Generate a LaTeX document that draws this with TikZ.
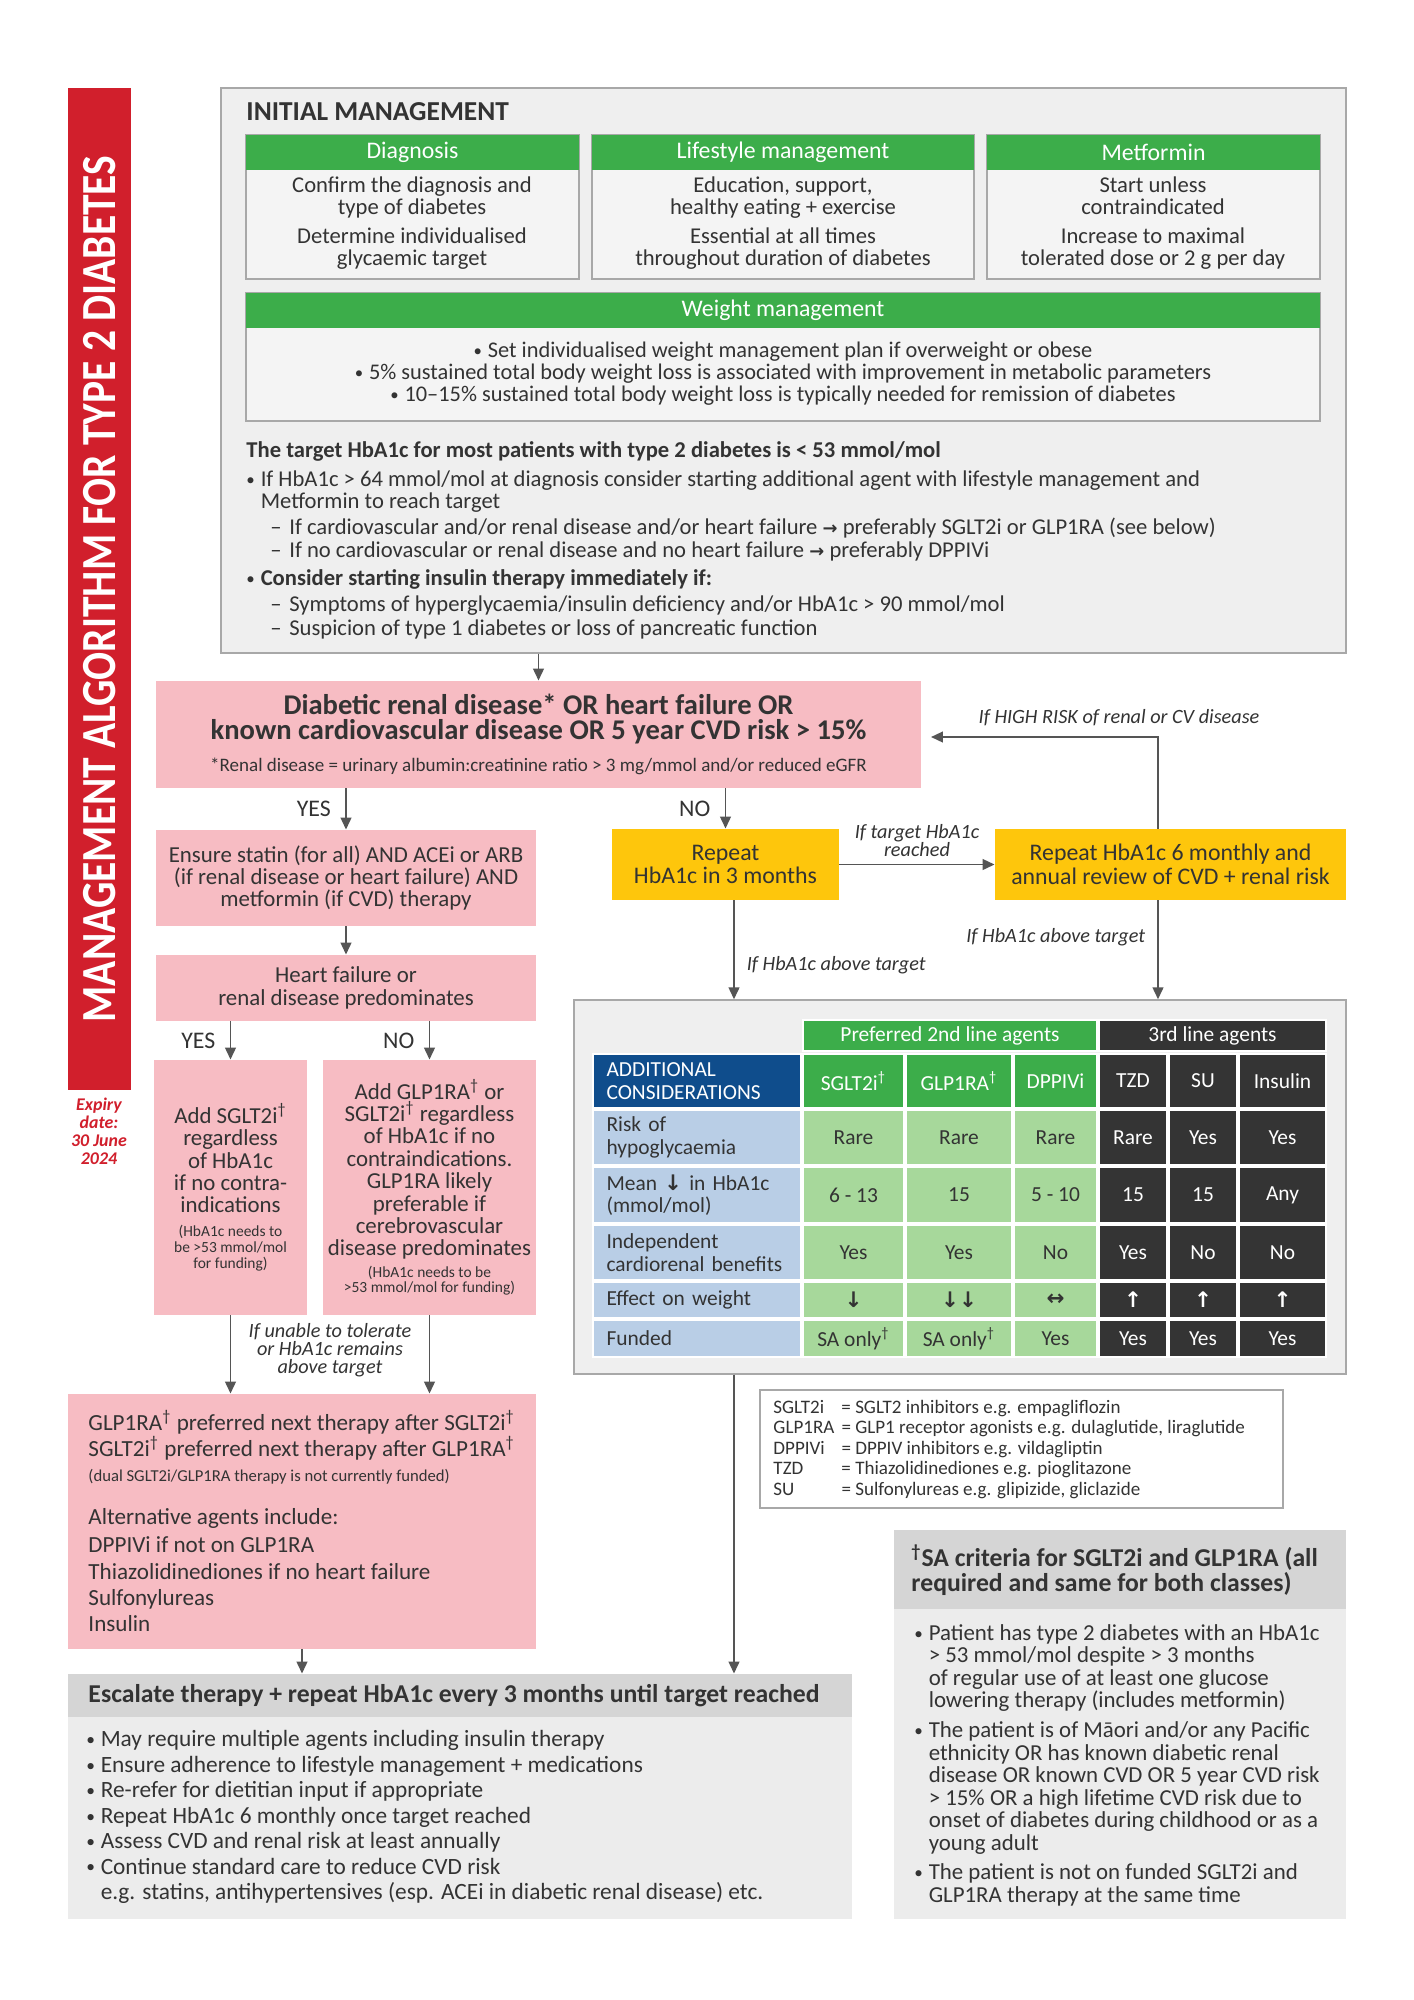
\documentclass[tikz,border=0pt]{standalone}
\usepackage{fontspec}
\setmainfont{Carlito}
\newfontfamily\symfont{DejaVu Sans}
\usepackage{graphicx}
\usetikzlibrary{arrows.meta}

\definecolor{ink}{HTML}{333333}
\definecolor{barred}{HTML}{D11F2C}
\definecolor{panelgrey}{HTML}{EFEFEF}
\definecolor{cardgrey}{HTML}{F4F4F4}
\definecolor{frame}{HTML}{A8A8A8}
\definecolor{leafgreen}{HTML}{3CAD4A}
\definecolor{rosepink}{HTML}{F7BCC3}
\definecolor{sunyellow}{HTML}{FEC60C}
\definecolor{navyblue}{HTML}{0F4D8C}
\definecolor{paleblue}{HTML}{B9CEE6}
\definecolor{palegreen}{HTML}{A7D89B}
\definecolor{charcoal}{HTML}{343434}
\definecolor{headgrey}{HTML}{D5D5D5}
\definecolor{bodygrey}{HTML}{ECECEC}
\definecolor{arrowgrey}{HTML}{555555}

\newcommand\fs[2]{\fontsize{#1}{#2}\selectfont}
\newcommand\sadag{\textsuperscript{\dag}}
\newcommand\bul{\makebox[6pt][l]{\mdseries\raisebox{0.1ex}{\scalebox{0.75}{\textbullet}}}}
\newcommand\bulgap{\hspace*{6pt}}
\newcommand\rarr{{\symfont\fs{7.5}{7.5}\bfseries →}}
\newcommand\wdown{{\symfont\bfseries ↓}}
\newcommand\wup{{\symfont\bfseries ↑}}
\newcommand\wboth{{\symfont\bfseries ↔}}

\begin{document}
\begin{tikzpicture}[x=0.42pt, y=-0.42pt,
    every node/.style={text=ink},
    % a box is given by its corners x1,y1,x2,y2 in reference pixels
    box/.style n args={4}{minimum width={(#3-#1)*0.42pt}, minimum height={(#4-#2)*0.42pt},
        at={({(#1+#3)/2},{(#2+#4)/2})}, inner sep=0pt, align=center},
    panel/.style={fill=panelgrey, draw=frame, line width=0.6pt},
    card/.style={fill=cardgrey, draw=frame, line width=0.6pt},
    greenhead/.style={fill=leafgreen, text=white, font=\fs{10}{12}},
    pinkbox/.style={fill=rosepink, font=\fs{9.6}{9.4}},
    yellowbox/.style={fill=sunyellow, font=\fs{10}{10}},
    body/.style={align=center, font=\fs{9.5}{9.3}},
    note/.style={font=\itshape\fs{8.5}{7.6}, align=center, inner sep=0pt},
    yesno/.style={font=\fs{10}{10}, inner sep=0pt},
    cell/.style={fill=#1, draw=white, line width=0.7pt, font=\fs{9}{9.4}},
    darkcell/.style={cell=charcoal, text=white},
    flow/.style={draw=arrowgrey, line width=0.8pt, -{Triangle[length=5pt, width=4.5pt]}}
]
\fill[white] (0,0) rectangle (1414,2000);
\useasboundingbox (0,0) rectangle (1414,2000);

% side bar
\node[box={68}{88}{131}{1090}, fill=barred] (bar) {};
\node[rotate=90, text=white, inner sep=0pt] (bartitle) at (bar.center)
    {\resizebox{364pt}{13.5pt}{\bfseries MANAGEMENT ALGORITHM FOR TYPE 2 DIABETES}};
\node[text=barred, font=\bfseries\itshape\fs{7.5}{7.6}, align=center] (expiry) at (99,1131)
    {Expiry\\date:\\30 June\\2024};

% initial management
\node[box={221}{88}{1346}{653}, panel] (init) {};
\node[anchor=west, font=\bfseries\fs{11.5}{12}, inner sep=0pt] (inittitle) at (246,112) {INITIAL MANAGEMENT};

\node[box={246}{135}{579}{279}, card] (diag) {};
\node[box={246}{135}{579}{170}, greenhead] (diaghd) {Diagnosis};
\node[body] (diagtx) at (412,223) {Confirm the diagnosis and\\type of diabetes\\[3pt]Determine individualised\\glycaemic target};

\node[box={592}{135}{974}{279}, card] (life) {};
\node[box={592}{135}{974}{170}, greenhead] (lifehd) {Lifestyle management};
\node[body] (lifetx) at (783,223) {Education, support,\\healthy eating + exercise\\[3pt]Essential at all times\\throughout duration of diabetes};

\node[box={987}{135}{1320}{279}, card] (metf) {};
\node[box={987}{135}{1320}{170}, greenhead] (metfhd) {Metformin};
\node[body] (metftx) at (1153,223) {Start unless\\contraindicated\\[3pt]Increase to maximal\\tolerated dose or 2 g per day};

\node[box={246}{293}{1320}{421}, card] (weight) {};
\node[box={246}{293}{1320}{328}, greenhead] (weighthd) {Weight management};
\node[body, font=\fs{9.4}{9.3}] (weighttx) at (783,374) {\bul Set individualised weight management plan if overweight or obese\\
    \bul 5\% sustained total body weight loss is associated with improvement in metabolic parameters\\
    \bul 10--15\% sustained total body weight loss is typically needed for remission of diabetes};

\node[anchor=north west, align=left, font=\fs{9.5}{9.4}, inner sep=0pt] (target) at (246,441) {%
    {\bfseries The target HbA1c for most patients with type 2 diabetes is < 53 mmol/mol}\\[2.8pt]
    \bul If HbA1c > 64 mmol/mol at diagnosis consider starting additional agent with lifestyle management and\\
    \bulgap Metformin to reach target\\[1.5pt]
    \hspace*{10pt}\makebox[8pt][l]{--}If cardiovascular and/or renal disease and/or heart failure \rarr\ preferably SGLT2i or GLP1RA (see below)\\[0.3pt]
    \hspace*{10pt}\makebox[8pt][l]{--}If no cardiovascular or renal disease and no heart failure \rarr\ preferably DPPIVi\\[2.4pt]
    \bul{\bfseries Consider starting insulin therapy immediately if:}\\[1.5pt]
    \hspace*{10pt}\makebox[8pt][l]{--}Symptoms of hyperglycaemia/insulin deficiency and/or HbA1c > 90 mmol/mol\\[0.3pt]
    \hspace*{10pt}\makebox[8pt][l]{--}Suspicion of type 1 diabetes or loss of pancreatic function};

% risk decision
\node[box={156}{681}{921}{788}, pinkbox, font=\bfseries\fs{12}{10.5}] (risk)
    {Diabetic renal disease* OR heart failure OR\\known cardiovascular disease OR 5 year CVD risk > 15\%\\[3pt]
     {\mdseries\fs{8}{8}*Renal disease = urinary albumin:creatinine ratio > 3 mg/mmol and/or reduced eGFR}};

\node[box={156}{830}{536}{926}, pinkbox] (statin)
    {Ensure statin (for all) AND ACEi or ARB\\(if renal disease or heart failure) AND\\metformin (if CVD) therapy};
\node[box={156}{955}{536}{1021}, pinkbox] (hf) {Heart failure or\\renal disease predominates};

\node[box={154}{1060}{307}{1315}, pinkbox] (sg)
    {Add SGLT2i\sadag\\regardless\\of HbA1c\\if no contra-\\indications\\[0.6pt]
     {\fs{6.5}{6.8}(HbA1c needs to}\\[-2.7pt]{\fs{6.5}{6.8}be >53 mmol/mol}\\[-2.7pt]{\fs{6.5}{6.8}for funding)}};
\node[box={323}{1060}{536}{1315}, pinkbox] (gl)
    {Add GLP1RA\sadag\ or\\SGLT2i\sadag\ regardless\\of HbA1c if no\\contraindications.\\GLP1RA likely\\preferable if\\cerebrovascular\\disease predominates\\[-0.5pt]
     {\fs{6.5}{6.8}(HbA1c needs to be}\\[-2.7pt]{\fs{6.5}{6.8}>53 mmol/mol for funding)}};

\node[box={68}{1394}{536}{1649}, pinkbox] (nt) {};
\node[anchor=west, align=left, font=\fs{9.7}{10.8}, inner sep=0pt] (nttx) at (88,1521)
    {GLP1RA\sadag\ preferred next therapy after SGLT2i\sadag\\
     SGLT2i\sadag\ preferred next therapy after GLP1RA\sadag\\
     {\fs{7}{8}(dual SGLT2i/GLP1RA therapy is not currently funded)}\\[7.2pt]
     Alternative agents include:\\[1pt]
     DPPIVi if not on GLP1RA\\[0.5pt]
     Thiazolidinediones if no heart failure\\
     Sulfonylureas\\
     Insulin};

% escalation
\node[box={68}{1674}{852}{1919}, fill=bodygrey] (esc) {};
\node[box={68}{1674}{852}{1717}, fill=headgrey] (eschd) {};
\node[anchor=west, font=\bfseries\fs{10.8}{10.8}, inner sep=0pt] (esctitle) at (88,1696)
    {Escalate therapy + repeat HbA1c every 3 months until target reached};
\node[anchor=north west, align=left, font=\fs{9.8}{10.7}, inner sep=0pt] (esctx) at (86,1730)
    {\bul May require multiple agents including insulin therapy\\
     \bul Ensure adherence to lifestyle management + medications\\
     \bul Re-refer for dietitian input if appropriate\\
     \bul Repeat HbA1c 6 monthly once target reached\\
     \bul Assess CVD and renal risk at least annually\\
     \bul Continue standard care to reduce CVD risk\\
     \bulgap e.g. statins, antihypertensives (esp. ACEi in diabetic renal disease) etc.};

% monitoring
\node[box={612}{829}{839}{900}, yellowbox] (rep3) {Repeat\\HbA1c in 3 months};
\node[box={995}{829}{1346}{900}, yellowbox] (rep6) {Repeat HbA1c 6 monthly and\\annual review of CVD + renal risk};
\coordinate (turn) at (1158,737);
\coordinate (drop) at (734,900);

% table of agents
\node[box={574}{1000}{1346}{1374}, panel] (tbl) {};
\node[box={803}{1020}{1097}{1051}, cell=leafgreen, text=white] (prefhd) {Preferred 2nd line agents};
\node[box={1099}{1020}{1326}{1051}, darkcell] (thirdhd) {3rd line agents};
\node[box={593}{1054}{801}{1108}, cell=navyblue, text=white, align=left, text width=76pt] (addhd) {ADDITIONAL\\CONSIDERATIONS};
\node[box={803}{1054}{904}{1108}, cell=leafgreen, text=white] (sglthd) {SGLT2i\sadag};
\node[box={906}{1054}{1012}{1108}, cell=leafgreen, text=white] (glphd) {GLP1RA\sadag};
\node[box={1014}{1054}{1097}{1108}, cell=leafgreen, text=white] (dpphd) {DPPIVi};
\node[box={1099}{1054}{1167}{1108}, darkcell] (tzdhd) {TZD};
\node[box={1169}{1054}{1237}{1108}, darkcell] (suhd) {SU};
\node[box={1239}{1054}{1326}{1108}, darkcell] (inshd) {Insulin};

\foreach \ya/\yb/\lab/\agA/\agB/\agC/\agD/\agE/\agF [count=\r] in {
    1110/1165/{Risk of\\hypoglycaemia}/Rare/Rare/Rare/Rare/Yes/Yes,
    1167/1223/{Mean \wdown\ in HbA1c\\(mmol/mol)}/{6 - 13}/15/{5 - 10}/15/15/Any,
    1225/1280/{Independent\\cardiorenal benefits}/Yes/Yes/No/Yes/No/No,
    1282/1318/{Effect on weight}/\wdown/{\wdown\wdown}/\wboth/\wup/\wup/\wup,
    1320/1357/{Funded}/{SA only\sadag}/{SA only\sadag}/Yes/Yes/Yes/Yes}
{
    \node[box={593}{\ya}{801}{\yb}, cell=paleblue, align=left, text width=76pt] (lab\r) {\lab};
    \node[box={803}{\ya}{904}{\yb}, cell=palegreen] (sglt\r) {\agA};
    \node[box={906}{\ya}{1012}{\yb}, cell=palegreen] (glp\r) {\agB};
    \node[box={1014}{\ya}{1097}{\yb}, cell=palegreen] (dpp\r) {\agC};
    \node[box={1099}{\ya}{1167}{\yb}, darkcell] (tzd\r) {\agD};
    \node[box={1169}{\ya}{1237}{\yb}, darkcell] (su\r) {\agE};
    \node[box={1239}{\ya}{1326}{\yb}, darkcell] (ins\r) {\agF};
}

% abbreviations
\node[box={760}{1390}{1283}{1508}, fill=white, draw=frame, line width=0.6pt] (legend) {};
\node[anchor=west, font=\fs{8}{8.6}, inner sep=0pt] (legendtx) at (773,1450)
    {\begin{tabular}{@{}l@{\hspace{3pt}}l@{}}
     SGLT2i & = SGLT2 inhibitors e.g. empagliflozin\\
     GLP1RA & = GLP1 receptor agonists e.g. dulaglutide, liraglutide\\
     DPPIVi & = DPPIV inhibitors e.g. vildagliptin\\
     TZD & = Thiazolidinediones e.g. pioglitazone\\
     SU & = Sulfonylureas e.g. glipizide, gliclazide
     \end{tabular}};

% special authority criteria
\node[box={894}{1530}{1346}{1919}, fill=bodygrey] (sa) {};
\node[box={894}{1530}{1346}{1609}, fill=headgrey] (sahd) {};
\node[anchor=west, align=left, font=\bfseries\fs{10.8}{10.5}, inner sep=0pt] (satitle) at (911,1570)
    {\sadag SA criteria for SGLT2i and GLP1RA (all\\required and same for both classes)};
\node[anchor=north west, align=left, font=\fs{9.6}{9.45}, inner sep=0pt] (satx) at (914,1624)
    {\bul Patient has type 2 diabetes with an HbA1c\\
     \bulgap > 53 mmol/mol despite > 3 months\\
     \bulgap of regular use of at least one glucose\\
     \bulgap lowering therapy (includes metformin)\\[3pt]
     \bul The patient is of Māori and/or any Pacific\\
     \bulgap ethnicity OR has known diabetic renal\\
     \bulgap disease OR known CVD OR 5 year CVD risk\\
     \bulgap > 15\% OR a high lifetime CVD risk due to\\
     \bulgap onset of diabetes during childhood or as a\\
     \bulgap young adult\\[3pt]
     \bul The patient is not on funded SGLT2i and\\
     \bulgap GLP1RA therapy at the same time};

% connectors
\draw[flow] (risk.north |- init.south) -- (risk.north);
\draw[flow] (statin.north |- risk.south) -- (statin.north) node[midway, left=6pt, yesno] {YES};
\draw[flow] (rep3.north |- risk.south) -- (rep3.north) node[midway, left=6pt, yesno] {NO};
\draw[flow] (statin) -- (hf);
\draw[flow] (sg.north |- hf.south) -- (sg.north) node[midway, left=6pt, yesno] {YES};
\draw[flow] (gl.north |- hf.south) -- (gl.north) node[midway, left=6pt, yesno] {NO};
\draw[flow] (sg.south) -- (sg.south |- nt.north);
\draw[flow] (gl.south) -- (gl.south |- nt.north);
\node[note] (unable) at (330,1350) {If unable to tolerate\\or HbA1c remains\\above target};
\draw[flow] (nt.south) -- (nt.south |- esc.north);
\draw[flow] (rep3) -- (rep6) node[midway, above=3pt, note] {If target HbA1c\\reached};
\draw[flow, shorten >=4pt] (rep6.north -| turn) |- (risk.east |- turn);
\node[note] (highrisk) at (1119,718) {If HIGH RISK of renal or CV disease};
\draw[flow] (drop) -- (drop |- tbl.north) node[pos=0.66, right=5pt, note] {If HbA1c above target};
\draw[flow] (rep6.south -| turn) -- (turn |- tbl.north) node[pos=0.37, left=5pt, note] {If HbA1c above target};
\draw[flow] (drop |- tbl.south) -- (drop |- esc.north);

\end{tikzpicture}
\end{document}
